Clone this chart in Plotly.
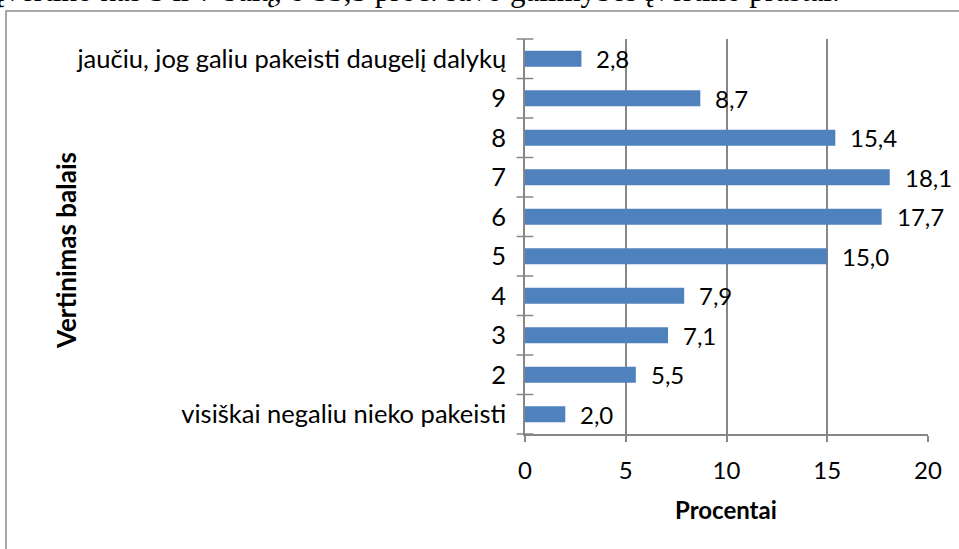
import plotly.graph_objects as go

categories = ["visiškai negaliu nieko pakeisti", "2", "3", "4", "5", "6", "7", "8", "9",
              "jaučiu, jog galiu pakeisti daugelį dalykų"]
values = [2.0, 5.5, 7.1, 7.9, 15.0, 17.7, 18.1, 15.4, 8.7, 2.8]
x_ticks = [0, 5, 10, 15, 20]
labels = [f"{v:.1f}".replace(".", ",") for v in values]

FONT = "Lato"
FS = 24
W, H = 959, 549
L, R, T, B = 525, 31, 39, 115
pw, ph = W - L - R, H - T - B

fig = go.Figure()
fig.add_trace(go.Bar(
    x=values, y=list(range(len(categories))), orientation="h",
    marker=dict(color="#4F81BD", line=dict(width=0)),
    width=0.4, hoverinfo="skip",
))

for i, (v, t) in enumerate(zip(values, labels)):
    fig.add_annotation(x=v, y=i, text=t, showarrow=False, xanchor="left",
                       xshift=13, yshift=0, font=dict(family=FONT, size=FS, color="#000"))

def px_x(p):
    return (p - L) / pw

def px_y(p):
    return (H - B - p) / ph

# outer frame
fig.add_shape(type="rect", xref="paper", yref="paper",
              x0=px_x(6), x1=px_x(1000), y0=px_y(600), y1=px_y(11),
              line=dict(color="#8C8C8C", width=1.5), fillcolor="rgba(0,0,0,0)", layer="below")

# cropped text from surrounding page
fig.add_annotation(xref="paper", yref="paper", x=px_x(842), y=px_y(10), xanchor="right", yanchor="bottom",
                   text="įvertino kas 5 ir 7 balą, o 53,5 proc. savo galimybes įvertino prastai.",
                   showarrow=False, font=dict(family="Liberation Serif", size=31, color="#000"))

# axis titles
fig.add_annotation(xref="paper", yref="paper", x=px_x(66), y=px_y(251), xanchor="center", yanchor="middle",
                   text="<b>Vertinimas balais</b>",
                   textangle=-90, showarrow=False, font=dict(family=FONT, size=26))
fig.add_annotation(xref="paper", yref="paper", x=px_x(726), y=px_y(510), xanchor="center", yanchor="middle",
                   text="<b>Procentai</b>",
                   showarrow=False, font=dict(family=FONT, size=24))

fig.update_layout(
    width=W, height=H, margin=dict(l=L, r=R, t=T, b=B, autoexpand=False),
    paper_bgcolor="white", plot_bgcolor="white", showlegend=False,
    font=dict(family=FONT, size=FS, color="#000"),
    xaxis=dict(range=[0, 20], tickvals=x_ticks, ticktext=[str(v) for v in x_ticks],
               showgrid=True, gridcolor="#868686", gridwidth=1.5,
               showline=True, linecolor="#868686", linewidth=1.5,
               ticks="outside", ticklen=6, tickcolor="#868686", tickwidth=1.5,
               ticklabelstandoff=8, zeroline=False, automargin=False),
    yaxis=dict(range=[-0.5, len(categories) - 0.5],
               tickvals=list(range(len(categories))), ticktext=categories,
               tickfont=dict(size=25.5),
               showgrid=False, showline=True, linecolor="#868686", linewidth=1.5,
               ticks="", ticklabelstandoff=12, zeroline=False, automargin=False),
)

# category boundary ticks on the y axis (Excel style)
bounds = [i - 0.5 for i in range(len(categories) + 1)]
fig.add_trace(go.Scatter(
    x=[0] * len(bounds), y=bounds,
    mode="markers", marker=dict(symbol="line-ew", size=12, line=dict(color="#868686", width=1.5)),
    hoverinfo="skip", cliponaxis=False, showlegend=False,
))

fig.write_html("out.html", post_script="document.body.style.margin='0';",
               config={"displayModeBar": False})
